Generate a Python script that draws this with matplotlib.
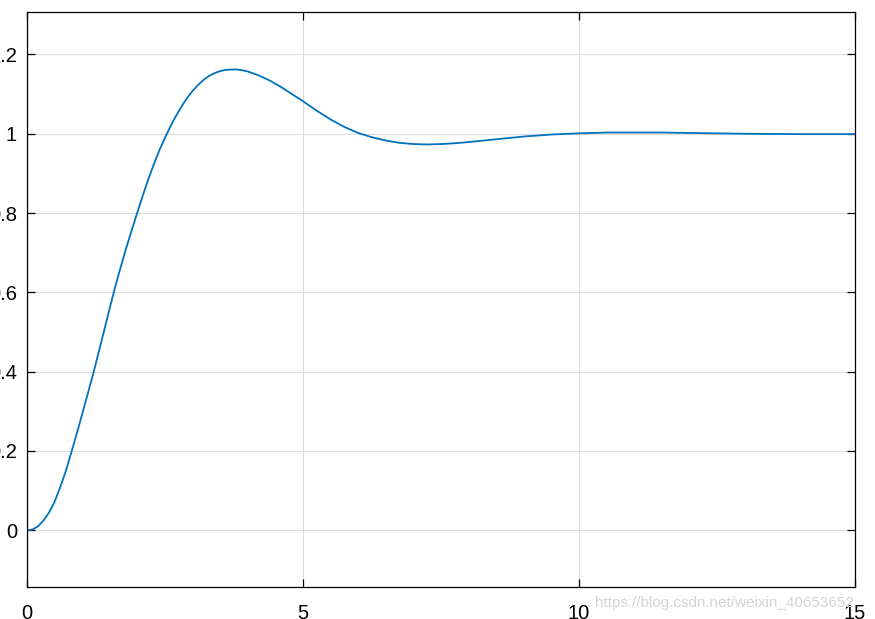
import numpy as np
import matplotlib
matplotlib.use("Agg")
import matplotlib.pyplot as plt
from matplotlib.ticker import FuncFormatter

plt.rcParams['font.family'] = ['Liberation Sans', 'DejaVu Sans']

# step response
t = [0, 0.1, 0.2, 0.3, 0.4, 0.5, 0.6, 0.7, 0.8, 0.9, 1.0, 1.1, 1.2, 1.3,
     1.4, 1.5, 1.6, 1.7, 1.8, 1.9, 2.0, 2.1, 2.2, 2.3, 2.4, 2.5, 2.6, 2.7,
     2.8, 2.9, 3.0, 3.1, 3.2, 3.3, 3.4, 3.5, 3.6, 3.7, 3.8, 3.9, 4.0, 4.2,
     4.4, 4.6, 4.8, 5.0, 5.25, 5.5, 5.75, 6.0, 6.25, 6.5, 6.75, 7.0, 7.25,
     7.5, 7.75, 8.0, 8.5, 9.0, 9.5, 10.0, 10.5, 11.0, 11.5, 12.0, 13.0,
     14.0, 15.0]
y = [0, 0.002, 0.01, 0.025, 0.045, 0.072, 0.108, 0.148, 0.195, 0.243,
     0.293, 0.344, 0.395, 0.45, 0.505, 0.561, 0.615, 0.665, 0.713, 0.758,
     0.802, 0.845, 0.886, 0.924, 0.959, 0.99, 1.019, 1.045, 1.069, 1.09,
     1.108, 1.123, 1.136, 1.146, 1.153, 1.158, 1.161, 1.162, 1.162, 1.16,
     1.157, 1.147, 1.134, 1.118, 1.1, 1.082, 1.058, 1.036, 1.017, 1.002,
     0.991, 0.983, 0.977, 0.974, 0.973, 0.974, 0.976, 0.979, 0.986, 0.993,
     0.998, 1.001, 1.003, 1.003, 1.003, 1.002, 1.0, 0.999, 0.999]

xticks = [0, 5, 10, 15]
yticks = [0, 0.2, 0.4, 0.6, 0.8, 1.0, 1.2]
watermark = "https://blog.csdn.net/weixin_40653652"

fig = plt.figure(figsize=(8.75, 6.19), dpi=100)
ax = fig.add_axes([27 / 875, 1 - 587 / 619, (855 - 27) / 875, (587 - 12) / 619])

ax.plot(t, y, color='#0072BD', linewidth=1.3)

ax.set_xlim(0, 15)
ax.set_ylim(-0.143, 1.307)
ax.set_xticks(xticks)
ax.set_yticks(yticks)
ax.yaxis.set_major_formatter(FuncFormatter(lambda v, p: f'{v:g}'))
ax.xaxis.set_major_formatter(FuncFormatter(lambda v, p: f'{v:g}'))
ax.grid(True, color='#dcdcdc', linewidth=0.8)
ax.set_axisbelow(True)

ax.tick_params(axis='both', direction='in', length=5.8, width=0.9,
               labelsize=14.5, top=True, right=True, colors='black')
ax.tick_params(axis='y', pad=7.2)
ax.tick_params(axis='x', pad=12)
for s in ax.spines.values():
    s.set_linewidth(0.9)

fig.text(595 / 875, 1 - 603 / 619, watermark, fontsize=11, color='#d4d4d4',
         ha='left', va='center')

fig.savefig('out.png', dpi=100)
